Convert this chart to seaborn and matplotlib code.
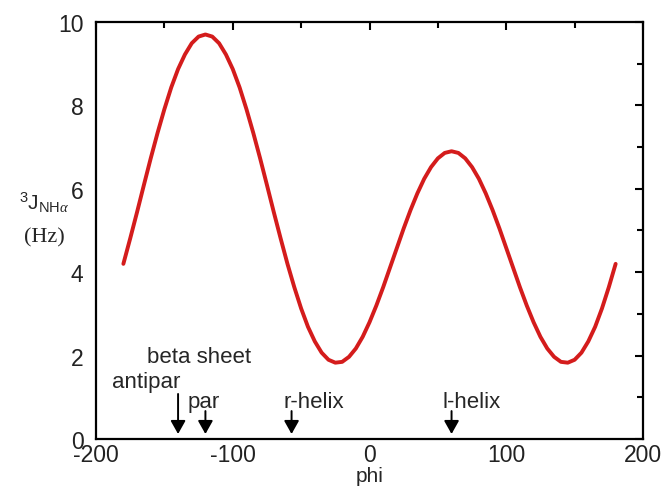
import seaborn as sns
import matplotlib.pyplot as plt
import pandas as pd
from matplotlib.ticker import MultipleLocator

# values, every 5 degrees
phi = list(range(-180, 181, 5))
j_coupling = [4.20, 4.81, 5.44, 6.09, 6.73, 7.34, 7.91, 8.43, 8.87, 9.22,
              9.49, 9.65, 9.70, 9.65, 9.49, 9.22, 8.87, 8.43, 7.91, 7.34,
              6.73, 6.09, 5.44, 4.81, 4.20, 3.64, 3.13, 2.69, 2.34, 2.07,
              1.90, 1.83, 1.85, 1.97, 2.17, 2.45, 2.80, 3.20, 3.64, 4.11,
              4.58, 5.05, 5.49, 5.89, 6.24, 6.52, 6.73, 6.86, 6.90, 6.86,
              6.73, 6.52, 6.24, 5.89, 5.49, 5.05, 4.58, 4.11, 3.64, 3.20,
              2.80, 2.45, 2.17, 1.97, 1.85, 1.83, 1.90, 2.07, 2.34, 2.69,
              3.13, 3.64, 4.20]

# secondary structure markers
conf_labels = ['antipar', 'par', 'r-helix', 'l-helix']
conf_phi = [-140, -120, -57, 60]

df = pd.DataFrame({'phi': phi, 'J': j_coupling})

sns.set_style('white')
plt.rcParams['font.family'] = ['Liberation Sans', 'DejaVu Sans']
plt.rcParams['axes.unicode_minus'] = False
plt.rcParams['mathtext.fontset'] = 'custom'
plt.rcParams['mathtext.rm'] = 'Liberation Sans'
plt.rcParams['mathtext.it'] = 'Liberation Serif:italic'

fig = plt.figure(figsize=(6.65, 4.89), dpi=100)
ax = fig.add_axes([0.1444, 0.1002, 0.8225, 0.8528])

sns.lineplot(data=df, x='phi', y='J', color='#d41c1c', linewidth=2.8, ax=ax)

ax.set_xlim(-200, 200)
ax.set_ylim(0, 10)
ax.xaxis.set_major_locator(MultipleLocator(100))
ax.xaxis.set_minor_locator(MultipleLocator(50))
ax.yaxis.set_major_locator(MultipleLocator(2))
ax.yaxis.set_minor_locator(MultipleLocator(1))
ax.tick_params(which='both', direction='in', top=True, right=True,
               labelsize=16.5, color='black', labelcolor='#222222', width=1.5)
ax.tick_params(which='major', length=6)
ax.tick_params(which='minor', length=4)
ax.tick_params(axis='x', which='major', pad=3)
ax.tick_params(axis='y', which='major', pad=9)
for s in ax.spines.values():
    s.set_visible(True)
    s.set_color('black')
    s.set_linewidth(1.6)

ax.set_xlabel('phi', fontsize=15, labelpad=0)
ax.set_ylabel('')

# y label drawn as free text, horizontal
fig.text(0.066, 0.586, r'$^{3}$J$_{\mathrm{NH}\alpha}$', fontsize=15,
         ha='center', va='center')
fig.text(0.066, 0.513, '(Hz)', fontsize=16, family='Liberation Serif',
         ha='center', va='center')

# arrows
text_pos = {'antipar': (-163, 1.37), 'par': (-121, 0.91),
            'r-helix': (-41, 0.91), 'l-helix': (75, 0.91)}
tail_y = {'antipar': 1.08, 'par': 0.67, 'r-helix': 0.67, 'l-helix': 0.67}
for lab, x in zip(conf_labels, conf_phi):
    ax.annotate('', xy=(x, 0.12), xytext=(x, tail_y[lab]),
                arrowprops=dict(arrowstyle='-|>,head_length=0.8,head_width=0.45',
                                color='black', lw=1.4, shrinkA=0, shrinkB=0))
    tx, ty = text_pos[lab]
    ax.text(tx, ty, lab, fontsize=16, ha='center', va='center')
ax.text(-125, 1.97, 'beta sheet', fontsize=16, ha='center', va='center')

fig.savefig('out.png', dpi=100)
